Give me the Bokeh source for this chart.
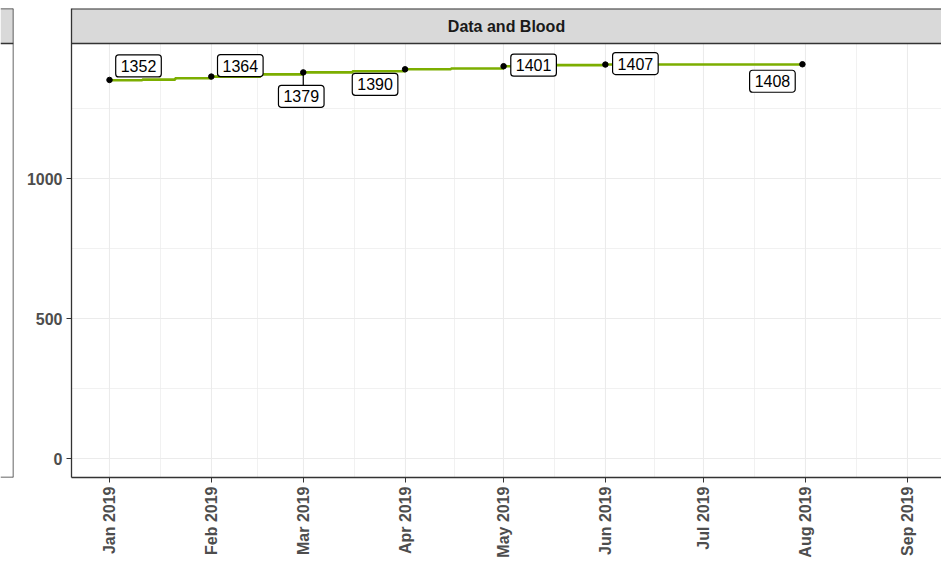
import numpy as np
import pandas as pd
from bokeh.plotting import figure
from bokeh.layouts import row
from bokeh.models import (Range1d, FixedTicker, BoxAnnotation, Span, Label,
                          DatetimeTickFormatter, ColumnDataSource)
from bokeh.embed import file_html
from bokeh.resources import INLINE

# ---------------- data ----------------
panel_title = "Data and Blood"
point_dates = ["2019-01-01", "2019-02-01", "2019-03-01", "2019-04-01",
               "2019-05-01", "2019-06-01", "2019-07-31"]
point_values = [1352, 1364, 1379, 1390, 1401, 1407, 1408]

step_dates = ["2019-01-01", "2019-01-11", "2019-01-21", "2019-02-01",
              "2019-02-16", "2019-03-01", "2019-03-16", "2019-04-01",
              "2019-04-15", "2019-05-01", "2019-05-16", "2019-06-01",
              "2019-07-31"]
step_values = [1351, 1353, 1358, 1364, 1372, 1379, 1383, 1390,
               1393, 1401, 1405, 1407, 1408]

tick_months = ["2019-01-01", "2019-02-01", "2019-03-01", "2019-04-01",
               "2019-05-01", "2019-06-01", "2019-07-01", "2019-08-01",
               "2019-09-01"]
y_ticks = [0, 500, 1000]
y_minor = [250, 750, 1250]

# label placement (screen pixel offsets, as repelled in the original)
label_dx = [29, 29, -2, -30, 30, 30, -30]
label_dy = [14, 11, -24, -15, 1, 1, -17]
label_segment = [False, False, True, False, False, False, False]

# ---------------- layout ----------------
TOTAL_W, H = 941, 562
LEFT_W = 14                 # sliver of the neighbouring (cut-off) panel
W = TOTAL_W - LEFT_W
LEFT, TOP, BOTTOM = 71 - LEFT_W, 8, 85
frame_w = W - LEFT
frame_h = H - TOP - BOTTOM
px_per_day = 3.284
px_per_unit = 0.28
jan1_px = 109 - 71          # first month tick, relative to frame left
zero_px = 450               # y=0 position from frame top
strip_px = 35               # strip height
BORDER = "#333333"

DAY_MS = 86400000.0


def ms(s):
    return pd.Timestamp(s).value / 1e6


x0 = ms(tick_months[0]) - jan1_px / px_per_day * DAY_MS
x1 = x0 + frame_w / px_per_day * DAY_MS
y1 = zero_px / px_per_unit
y0 = -(frame_h - zero_px) / px_per_unit
strip_bottom = (zero_px - strip_px) / px_per_unit

p = figure(width=W, height=H, output_backend="svg", toolbar_location=None,
           x_range=Range1d(x0, x1), y_range=Range1d(y0, y1),
           min_border_left=LEFT, min_border_bottom=BOTTOM,
           min_border_top=TOP, min_border_right=0)
p.outline_line_color = None
p.background_fill_color = "white"
p.border_fill_color = "white"

major_ms = [ms(t) for t in tick_months]
minor_ms = [(a + b) / 2 for a, b in zip(major_ms[:-1], major_ms[1:])]
p.xaxis.ticker = FixedTicker(ticks=major_ms, minor_ticks=minor_ms)
p.yaxis.ticker = FixedTicker(ticks=y_ticks, minor_ticks=y_minor)
p.xaxis.formatter = DatetimeTickFormatter(
    months="%b %Y", days="%b %Y", years="%b %Y", hours="%b %Y",
    minutes="%b %Y", seconds="%b %Y", milliseconds="%b %Y",
    minsec="%b %Y", hourmin="%b %Y")
p.xaxis.major_label_orientation = np.pi / 2

for ax in (p.xaxis, p.yaxis):
    ax.axis_line_color = BORDER
    ax.axis_line_width = 1.3
    ax.major_tick_line_color = BORDER
    ax.major_tick_in = 0
    ax.major_tick_out = 5
    ax.minor_tick_line_color = None
    ax.major_label_text_font = "Liberation Sans"
    ax.major_label_text_font_style = "bold"
    ax.major_label_text_font_size = "16px"
    ax.major_label_text_color = "#4D4D4D"
    ax.major_label_standoff = 4

for g in (p.xgrid, p.ygrid):
    g.grid_line_color = "#EBEBEB"
    g.grid_line_width = 1.1
    g.minor_grid_line_color = "#EBEBEB"
    g.minor_grid_line_width = 0.7

# strip
p.add_layout(BoxAnnotation(bottom=strip_bottom, fill_color="#D9D9D9",
                           fill_alpha=1, line_color=None, level="underlay"))
p.add_layout(Span(location=strip_bottom, dimension="width",
                  line_color=BORDER, line_width=1.3))
p.add_layout(Span(location=y1, dimension="width",
                  line_color=BORDER, line_width=2.0))
p.add_layout(Label(x=(x0 + x1) / 2, y=(strip_bottom + y1) / 2,
                   text=panel_title,
                   text_align="center", text_baseline="middle",
                   text_font="Liberation Sans", text_font_style="bold",
                   text_font_size="16px", text_color="#1A1A1A"))

# data
step_src = ColumnDataSource(dict(x=pd.to_datetime(step_dates), y=step_values))
p.step("x", "y", source=step_src, mode="after", line_color="#7CAE00",
       line_width=2.6)

pt_x = pd.to_datetime(point_dates)
pt_src = ColumnDataSource(dict(x=pt_x, y=point_values))

# repel segments
seg_x, seg_y0, seg_y1 = [], [], []
for d, v, dy, s in zip(pt_x, point_values, label_dy, label_segment):
    if s:
        seg_x.append(d)
        seg_y0.append(v)
        seg_y1.append(v - (abs(dy) - 11) / px_per_unit)
p.segment(x0=seg_x, y0=seg_y0, x1=seg_x, y1=seg_y1, line_color="black",
          line_width=1.2)

p.scatter("x", "y", source=pt_src, size=5.5, color="black")

for d, v, dx, dy in zip(pt_x, point_values, label_dx, label_dy):
    p.add_layout(Label(x=d, y=v, text=str(v), x_offset=dx, y_offset=dy,
                       text_align="center", text_baseline="middle",
                       text_font="Liberation Sans", text_font_size="16px",
                       text_color="black", background_fill_color="white",
                       border_line_color="black", border_line_width=1.2,
                       padding=(5, 5), border_radius=3))

# neighbouring panel, cut off at the left edge
lp = figure(width=LEFT_W, height=H, output_backend="svg",
            toolbar_location=None, x_axis_type=None, y_axis_type=None,
            x_range=Range1d(0, 1), y_range=Range1d(y0, y1),
            min_border_left=0, min_border_right=LEFT_W - 13,
            min_border_top=TOP, min_border_bottom=BOTTOM)
lp.outline_line_color = None
lp.grid.visible = False
lp.add_layout(BoxAnnotation(bottom=strip_bottom, fill_color="#D9D9D9",
                            fill_alpha=1, line_color=None, level="underlay"))
for loc in (strip_bottom, y1, y0):
    lp.add_layout(Span(location=loc, dimension="width",
                       line_color=BORDER, line_width=1.3))
lp.add_layout(Span(location=1, dimension="height",
                   line_color=BORDER, line_width=1.5))

layout = row(lp, p, spacing=0)
open("out.html", "w").write(file_html(layout, INLINE))
